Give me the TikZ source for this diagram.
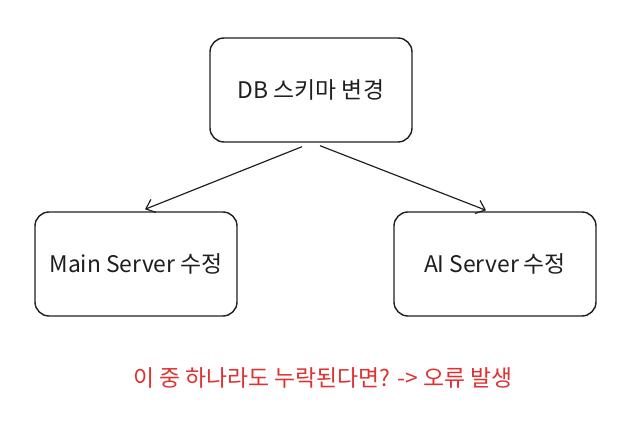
\documentclass[tikz,border=0pt]{standalone}
\usepackage{fontspec}
\setmainfont{Noto Sans CJK KR}
\usetikzlibrary{arrows.meta}
\definecolor{inkblack}{HTML}{1E1E1E}
\definecolor{inkred}{HTML}{E03131}
\begin{document}
\begin{tikzpicture}[x=0.03cm,y=-0.03cm,
                    thick,line width=1.2pt,
                    box node/.style={rectangle,rounded corners=12pt,draw=inkblack,
                        minimum width=6.06cm,minimum height=3.12cm,inner sep=0pt,
                        font=\fontsize{19.5}{23}\selectfont,text=inkblack},
                    arrow/.style={draw=inkblack,line width=1pt,-{Straight Barb[length=7pt,width=12pt]}}]

        \useasboundingbox (0,0) rectangle (639,432);

        % Define vertices
        \node[box node] (db) at (311,90) {DB 스키마 변경};
        \node[box node] (main) at (136,264) {Main Server 수정};
        \node[box node] (ai) at (495,264) {AI Server 수정};
        \node[text=inkred,font=\fontsize{19.5}{23}\selectfont] (warn) at (323,378)
            {이 중 하나라도 누락된다면? -> 오류 발생};

        % Draw edges
        \draw[arrow] ([xshift=-0.27cm,yshift=-0.12cm]db.south) -- ([xshift=0.27cm,yshift=0.06cm]main.north);
        \draw[arrow] ([xshift=0.27cm,yshift=-0.09cm]db.south) -- ([xshift=-0.27cm,yshift=0.03cm]ai.north);
\end{tikzpicture}
\end{document}
